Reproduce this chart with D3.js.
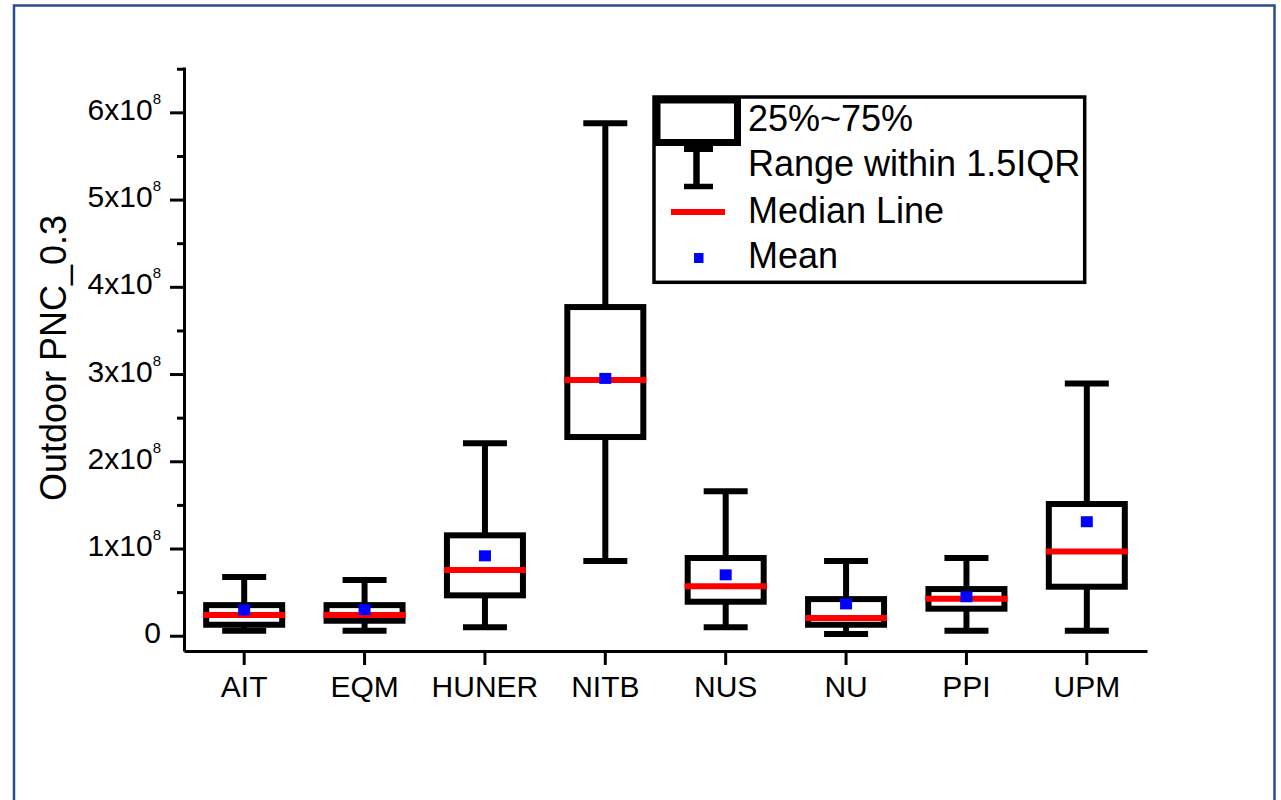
<!DOCTYPE html>
<html>
<head>
<meta charset="utf-8">
<script src="https://cdn.jsdelivr.net/npm/d3@7/dist/d3.min.js"></script>
<style>
  html, body { margin: 0; padding: 0; background: #fff; }
  svg { display: block; font-family: "Liberation Sans", Arial, sans-serif; }
</style>
</head>
<body>
<svg id="chart" width="1281" height="800"></svg>
<script>
// Sites along the x axis
const categories = ["AIT", "EQM", "HUNER", "NITB", "NUS", "NU", "PPI", "UPM"];
// Box statistics, in units of 10^8
const whiskerLow  = [0.057, 0.057, 0.096, 0.856, 0.096, 0.020, 0.057, 0.056];
const q1          = [0.126, 0.172, 0.463, 2.278, 0.390, 0.126, 0.310, 0.562];
const median      = [0.237, 0.237, 0.753, 2.931, 0.566, 0.203, 0.424, 0.967];
const q3          = [0.351, 0.351, 1.151, 3.768, 0.891, 0.420, 0.535, 1.510];
const whiskerHigh = [0.673, 0.640, 2.206, 5.874, 1.657, 0.856, 0.891, 2.893];
const mean        = [0.295, 0.300, 0.916, 2.950, 0.698, 0.365, 0.447, 1.307];
// Axis ticks
const majorTicks = [0, 1, 2, 3, 4, 5, 6];
const minorTicks = [0.5, 1.5, 2.5, 3.5, 4.5, 5.5, 6.5];
const yTitle = "Outdoor PNC_0.3";
const legendLabels = ["25%~75%", "Range within 1.5IQR", "Median Line", "Mean"];

const rows = categories.map((c, i) => ({
  cat: c, lo: whiskerLow[i], q1: q1[i], med: median[i], q3: q3[i], hi: whiskerHigh[i], mean: mean[i]
}));

const svg = d3.select("#chart");

// Outer frame
svg.append("rect")
  .attr("x", 14).attr("y", 5.5).attr("width", 1260.5).attr("height", 900)
  .attr("fill", "none").attr("stroke", "#2b4c8c").attr("stroke-width", 2.5);

const plot = { left: 184, right: 1147, top: 67, bottom: 651 };

const x = d3.scaleBand().domain(categories).range([plot.left, plot.right]);
const y = d3.scaleLinear().domain([-0.175, 6.52]).range([plot.bottom, plot.top]);

// Y axis: major ticks with labels, then minor ticks
const yAxisG = svg.append("g").attr("transform", `translate(${plot.left},0)`)
  .call(d3.axisLeft(y).tickValues(majorTicks).tickSize(14).tickSizeOuter(0).tickFormat(""));
const yMinorG = svg.append("g").attr("transform", `translate(${plot.left},0)`)
  .call(d3.axisLeft(y).tickValues(minorTicks).tickSize(7).tickSizeOuter(0).tickFormat(""));
yMinorG.select(".domain").remove();

[yAxisG, yMinorG].forEach(g => {
  g.selectAll("line").attr("stroke", "#000").attr("stroke-width", 3);
  g.select(".domain").attr("stroke", "#000").attr("stroke-width", 3);
});

// Y tick labels with a superscript exponent
yAxisG.selectAll(".tick").each(function(d) {
  const t = d3.select(this).append("text")
    .attr("x", -23).attr("y", 7)
    .attr("text-anchor", "end").attr("fill", "#000")
    .style("font-size", "30px");
  if (d === 0) {
    t.text("0");
  } else {
    t.append("tspan").text(d + "x10");
    t.append("tspan").attr("dy", -16).style("font-size", "15px").text("8");
  }
});

// X axis
const xAxisG = svg.append("g").attr("transform", `translate(0,${plot.bottom})`)
  .call(d3.axisBottom(x).tickSize(14).tickSizeOuter(0).tickPadding(10));
xAxisG.selectAll("line").attr("stroke", "#000").attr("stroke-width", 3);
xAxisG.select(".domain").attr("stroke", "#000").attr("stroke-width", 3);
xAxisG.selectAll("text").attr("fill", "#000").style("font-size", "30px")
  .attr("y", 46).attr("dy", null);

// Y axis title
svg.append("text")
  .attr("transform", "translate(66,358) rotate(-90)")
  .attr("text-anchor", "middle").attr("fill", "#000")
  .style("font-size", "36px")
  .text(yTitle);

// Boxes
const boxW = 76, capW = 44;
const g = svg.append("g");
const box = g.selectAll("g.box").data(rows).join("g").attr("class", "box")
  .attr("transform", d => `translate(${x(d.cat) + x.bandwidth() / 2},0)`);

// Whisker stems
box.append("line").attr("x1", 0).attr("x2", 0)
  .attr("y1", d => y(d.lo)).attr("y2", d => y(d.q1))
  .attr("stroke", "#000").attr("stroke-width", 6);
box.append("line").attr("x1", 0).attr("x2", 0)
  .attr("y1", d => y(d.q3)).attr("y2", d => y(d.hi))
  .attr("stroke", "#000").attr("stroke-width", 6);
// Whisker caps
box.append("line").attr("x1", -capW / 2).attr("x2", capW / 2)
  .attr("y1", d => y(d.lo)).attr("y2", d => y(d.lo))
  .attr("stroke", "#000").attr("stroke-width", 6);
box.append("line").attr("x1", -capW / 2).attr("x2", capW / 2)
  .attr("y1", d => y(d.hi)).attr("y2", d => y(d.hi))
  .attr("stroke", "#000").attr("stroke-width", 6);
// Interquartile box
box.append("rect")
  .attr("x", -boxW / 2).attr("width", boxW)
  .attr("y", d => y(d.q3)).attr("height", d => y(d.q1) - y(d.q3))
  .attr("fill", "#fff").attr("stroke", "#000").attr("stroke-width", 6);
// Median
box.append("line").attr("x1", -boxW / 2 - 3).attr("x2", boxW / 2 + 3)
  .attr("y1", d => y(d.med)).attr("y2", d => y(d.med))
  .attr("stroke", "#ff0000").attr("stroke-width", 6);
// Mean
box.append("rect")
  .attr("x", -6).attr("width", 12)
  .attr("y", d => y(d.mean) - 5.5).attr("height", 11)
  .attr("fill", "#0000ff");

// Legend
const lg = svg.append("g");
lg.append("rect").attr("x", 654).attr("y", 97).attr("width", 430.7).attr("height", 185.3)
  .attr("fill", "#fff").attr("stroke", "#000").attr("stroke-width", 3.5);
// box symbol
lg.append("rect").attr("x", 657).attr("y", 100).attr("width", 80.5).attr("height", 42.5)
  .attr("fill", "#fff").attr("stroke", "#000").attr("stroke-width", 7);
// whisker symbol
lg.append("line").attr("x1", 696.5).attr("x2", 696.5).attr("y1", 146).attr("y2", 187)
  .attr("stroke", "#000").attr("stroke-width", 6.5);
lg.append("line").attr("x1", 684).attr("x2", 713).attr("y1", 149).attr("y2", 149)
  .attr("stroke", "#000").attr("stroke-width", 6);
lg.append("line").attr("x1", 684).attr("x2", 713).attr("y1", 186.5).attr("y2", 186.5)
  .attr("stroke", "#000").attr("stroke-width", 5.5);
// median symbol
lg.append("line").attr("x1", 671).attr("x2", 725).attr("y1", 212).attr("y2", 212)
  .attr("stroke", "#ff0000").attr("stroke-width", 6);
// mean symbol
lg.append("rect").attr("x", 694).attr("y", 253).attr("width", 9.5).attr("height", 10)
  .attr("fill", "#0000ff");

const legendBaselines = [131, 176, 223, 268];
lg.selectAll("text.leg").data(legendLabels).join("text").attr("class", "leg")
  .attr("x", 748).attr("y", (d, i) => legendBaselines[i])
  .attr("fill", "#000").style("font-size", "36px")
  .text(d => d);
</script>
</body>
</html>
